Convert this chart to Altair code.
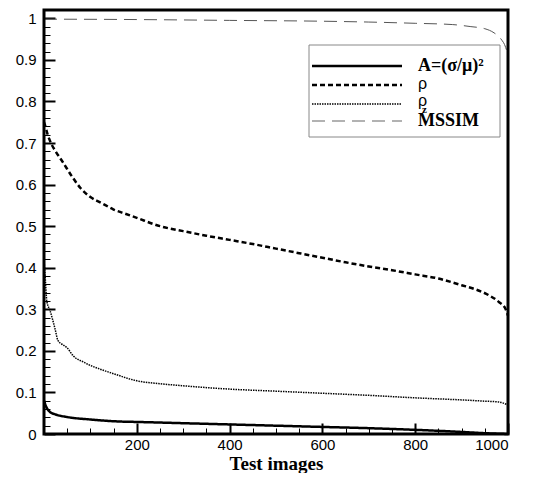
import altair as alt
import pandas as pd

# ---- data ----
series_names = ["A=(σ/μ)²", "ρ", "ρz", "MSSIM"]

a_x = [0, 5, 13, 25, 49, 99, 164, 200, 300, 400, 500, 600, 700, 800, 900, 950, 1000]
a_y = [0.08, 0.065, 0.053, 0.047, 0.041, 0.035, 0.030, 0.029, 0.026, 0.023, 0.020,
       0.017, 0.014, 0.010, 0.005, 0.002, 0.0]

rho_x = [0, 3, 8, 15, 25, 40, 60, 80, 100, 125, 150, 175, 200, 250, 300, 350, 400,
         450, 500, 550, 600, 650, 700, 750, 800, 850, 900, 930, 960, 980, 995, 1000]
rho_y = [0.75, 0.74, 0.72, 0.70, 0.68, 0.655, 0.62, 0.59, 0.57, 0.555, 0.54, 0.53,
         0.52, 0.50, 0.488, 0.477, 0.467, 0.457, 0.446, 0.435, 0.424, 0.413, 0.403,
         0.394, 0.384, 0.374, 0.358, 0.348, 0.333, 0.318, 0.30, 0.285]

rhoz_x = [0, 3, 6, 13, 24, 30, 40, 50, 63, 85, 100, 121, 150, 200, 250, 300, 400,
          500, 600, 700, 800, 900, 950, 980, 1000]
rhoz_y = [0.42, 0.37, 0.32, 0.297, 0.252, 0.225, 0.215, 0.207, 0.188, 0.173, 0.165,
          0.156, 0.145, 0.128, 0.121, 0.116, 0.108, 0.103, 0.098, 0.093, 0.087,
          0.082, 0.079, 0.077, 0.070]

ms_x = [0, 200, 400, 600, 700, 800, 880, 920, 950, 970, 985, 995, 1000]
ms_y = [0.998, 0.997, 0.995, 0.993, 0.991, 0.988, 0.985, 0.98, 0.975, 0.965, 0.95,
        0.93, 0.91]

y_ticks = [round(i * 0.02, 2) for i in range(51)]      # major every 0.1, minor every 0.02
x_ticks = [i * 50 for i in range(1, 21)]               # major every 200, minor every 50

W, H = 464, 424
MAJ, MIN = 11, 6
xs = alt.Scale(domain=[0, 1000], nice=False)
ys = alt.Scale(domain=[0, 1.02], nice=False)

y_major_test = "abs(datum.value*10 - round(datum.value*10)) < 0.001"
x_major_test = "datum.value % 200 === 0"

LBL = dict(labelFont="Liberation Sans", labelFontSize=15, labelColor="black")

# inward ticks are drawn as short dashed grid segments starting at the frame edge
x_axis = alt.Axis(
    values=x_ticks, ticks=False, domain=False, grid=True,
    labelExpr=f"{x_major_test} ? format(datum.value, 'd') : ''",
    gridColor="black", gridOpacity=1,
    gridWidth={"condition": {"test": x_major_test, "value": 2}, "value": 1},
    gridDash={"condition": {"test": x_major_test, "value": [0, H - MAJ, MAJ, 3000]},
              "value": [0, H - MIN, MIN, 3000]},
    title="Test images", labelPadding=3, titlePadding=2,
    titleFont="Liberation Serif", titleFontSize=19, titleFontWeight="bold",
    titleColor="black", **LBL)
y_axis = alt.Axis(
    values=y_ticks, ticks=False, domain=False, grid=True,
    labelExpr=f"{y_major_test} ? format(datum.value, '.1~f') : ''",
    gridColor="black", gridOpacity=1,
    gridWidth={"condition": {"test": y_major_test, "value": 2}, "value": 1},
    gridDash={"condition": {"test": y_major_test, "value": [MAJ, 3000]},
              "value": [MIN, 3000]},
    title=None, labelPadding=8, minExtent=36, maxExtent=36, **LBL)

styles = [
    dict(color="black", strokeWidth=2.5, strokeDash=[1, 0]),
    dict(color="black", strokeWidth=2.5, strokeDash=[5, 3]),
    dict(color="black", strokeWidth=1.5, strokeDash=[1.5, 1]),
    dict(color="#555555", strokeWidth=1, strokeDash=[13, 7]),
]

layers = []
for name, xv, yv, st in zip(series_names, [a_x, rho_x, rhoz_x, ms_x],
                            [a_y, rho_y, rhoz_y, ms_y], styles):
    d = pd.DataFrame({"x": xv, "y": yv, "series": name})
    layers.append(alt.Chart(d).mark_line(interpolate="monotone", **st).encode(
        x=alt.X("x:Q", scale=xs, axis=x_axis),
        y=alt.Y("y:Q", scale=ys, axis=y_axis)))

# ---- legend box (drawn by hand) ----
LX0, LX1, LY0, LY1 = 265, 456, 35, 127
layers.append(alt.Chart(pd.DataFrame({"k": [0]})).mark_rect(
    fill="white", stroke="#888888", strokeWidth=1).encode(
    x=alt.value(LX0), x2=alt.value(LX1), y=alt.value(LY0), y2=alt.value(LY1)))

row_y = [56, 75, 94, 111]
text_y = [56, 74, 91, 111]
fonts = [("Liberation Serif", "bold", 18), ("Liberation Sans", "normal", 16),
         ("Liberation Sans", "normal", 16), ("Liberation Serif", "bold", 18)]
for i, (name, st) in enumerate(zip(series_names, styles)):
    sw = 2.5 if i < 2 else 1.5
    layers.append(alt.Chart(pd.DataFrame({"k": [0]})).mark_rule(
        color=("#999999" if i == 3 else "black"), strokeWidth=sw,
        strokeDash=st["strokeDash"]).encode(
        x=alt.value(268), x2=alt.value(358), y=alt.value(row_y[i])))
    label = "ρ" if name == "ρz" else name
    fam, wt, fs = fonts[i]
    layers.append(alt.Chart(pd.DataFrame({"label": [label]})).mark_text(
        align="left", baseline="middle", font=fam, fontWeight=wt, fontSize=fs,
        color="black").encode(
        x=alt.value(374), y=alt.value(text_y[i]), text="label:N"))
    if name == "ρz":
        layers.append(alt.Chart(pd.DataFrame({"label": ["z"]})).mark_text(
            align="left", baseline="middle", font="Liberation Serif", fontWeight="bold",
            fontSize=11, color="black").encode(
            x=alt.value(378), y=alt.value(text_y[i] + 9), text="label:N"))

# plot frame
layers.append(alt.Chart(pd.DataFrame({"k": [0]})).mark_rect(
    fill="transparent", stroke="black", strokeWidth=3).encode(
    x=alt.value(0), x2=alt.value(W), y=alt.value(0), y2=alt.value(H)))

chart = alt.layer(*layers).properties(
    width=W, height=H,
    padding={"left": 0, "top": 0, "right": 0, "bottom": 0},
).configure_view(strokeWidth=0)

chart.save("out.html", embed_options={"renderer": "svg", "actions": False})
